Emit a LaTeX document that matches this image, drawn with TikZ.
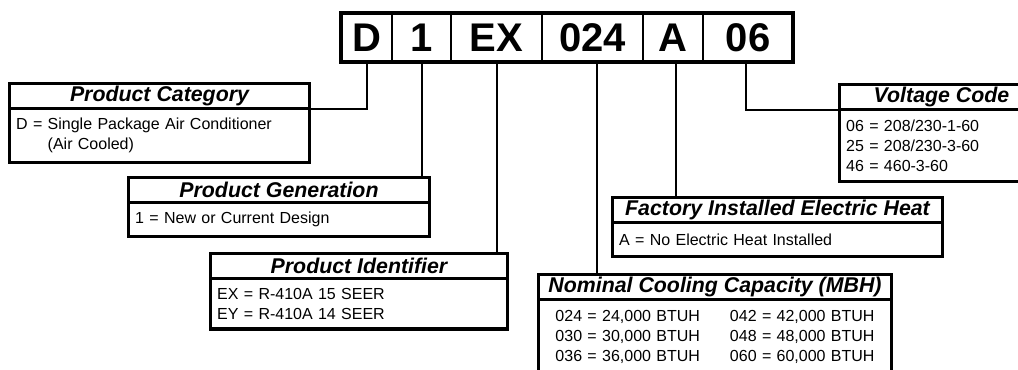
\documentclass[tikz,border=0pt]{standalone}
\usepackage{fontspec}
\setmainfont{Liberation Sans}
\usetikzlibrary{positioning}
\tikzset{
  codecell/.style={draw, line width=2.2pt, outer sep=0pt, inner sep=0pt,
    minimum height=36.75pt, font=\fontsize{30}{30}\selectfont\bfseries},
  codeframe/.style={draw, line width=3.4pt},
  boxtitle/.style={draw, line width=2.5pt, outer sep=0pt, inner sep=0pt, anchor=north west,
    minimum height=18.75pt, font=\fontsize{16}{16}\selectfont\bfseries\itshape},
  boxbody/.style={draw, line width=2.5pt, outer sep=0pt, inner xsep=5pt, inner ysep=0pt,
    anchor=north west, align=left, font=\fontsize{12}{15}\selectfont},
  link/.style={draw, line width=1.5pt}
}
\begin{document}
\begin{tikzpicture}[x=0.75pt,y=-0.75pt]
  \useasboundingbox (0,0) rectangle (1018,369);
  \clip (0,0) rectangle (1018,369);

  % model number cells
  \node[codecell, minimum width=38.25pt] (cD) at (366.5,37.5) {D};
  \node[codecell, minimum width=44.25pt, right=0pt of cD] (c1) {1};
  \node[codecell, minimum width=68.25pt, right=0pt of c1] (cEX) {EX};
  \node[codecell, minimum width=75.75pt, right=0pt of cEX] (c024) {024};
  \node[codecell, minimum width=45pt, right=0pt of c024] (cA) {A};
  \node[codecell, minimum width=67.5pt, right=0pt of cA] (c06) {06};
  \draw[codeframe] (cD.north west) rectangle (c06.south east);

  % description boxes
  \node[boxtitle, minimum width=225pt] (catT) at (9.5,83.5) {Product Category};
  \node[boxbody, text width=215pt, minimum height=40.5pt] (catB) at (catT.south west)
    {D = Single Package Air Conditioner\\\phantom{D = }(Air Cooled)};

  \node[boxtitle, minimum width=225.75pt] (genT) at (128.5,177.5) {Product Generation};
  \node[boxbody, text width=215.75pt, minimum height=25.5pt] (genB) at (genT.south west)
    {1 = New or Current Design};

  \node[boxtitle, minimum width=222.75pt] (idT) at (210.5,253.5) {Product Identifier};
  \node[boxbody, text width=212.75pt, minimum height=37.9pt] (idB) at (idT.south west)
    {EX = R-410A 15 SEER\\EY = R-410A 14 SEER};

  \node[boxtitle, minimum width=264.75pt] (coolT) at (538.5,274.5) {Nominal Cooling Capacity (MBH)};
  \node[boxbody, text width=254.75pt, minimum height=56.25pt, align=center] (coolB) at (coolT.south west)
    {\begin{tabular}{@{}l@{\hspace{22.5pt}}l@{}}
      024 = 24,000 BTUH & 042 = 42,000 BTUH\\
      030 = 30,000 BTUH & 048 = 48,000 BTUH\\
      036 = 36,000 BTUH & 060 = 60,000 BTUH
    \end{tabular}};

  \node[boxtitle, minimum width=247.5pt] (heatT) at (612.5,197.5) {Factory Installed Electric Heat};
  \node[boxbody, text width=237.5pt, minimum height=25.5pt] (heatB) at (heatT.south west)
    {A = No Electric Heat Installed};

  \node[boxtitle, minimum width=153pt] (voltT) at (839.5,84.5) {Voltage Code};
  \node[boxbody, text width=143pt, minimum height=54pt] (voltB) at (voltT.south west)
    {06 = 208/230-1-60\\25 = 208/230-3-60\\46 = 460-3-60};

  % leader lines
  \draw[link] (cD.south) |- (catT.south east);
  \foreach \code/\desc in {c1/genT,cEX/idT} {
    \draw[link] (\code.south) -- (\code.south |- \desc.north);
  }
  \draw[link] ([xshift=3pt]c024.south) -- ([xshift=3pt]c024.south |- coolT.north);
  \draw[link] ([xshift=2pt]cA.south) -- ([xshift=2pt]cA.south |- heatT.north);
  \draw[link] ([xshift=-1.5pt]c06.south) |- (voltT.south west);
\end{tikzpicture}
\end{document}
